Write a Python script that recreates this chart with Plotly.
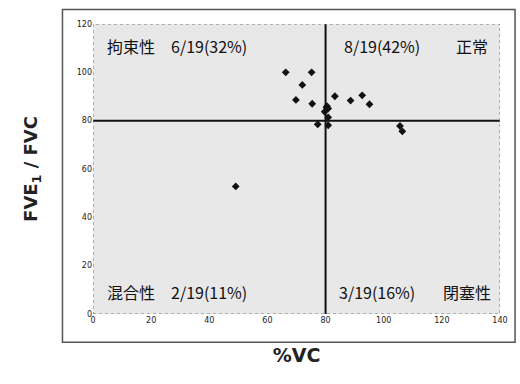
import plotly.graph_objects as go

vc = [66.3, 75.2, 72.0, 69.8, 75.4, 79.7, 80.3, 80.5, 80.9, 80.9, 83.2, 88.6, 92.6, 95.1,
      77.3, 49.1, 80.9, 105.6, 106.4]
fev1_fvc = [100.0, 100.0, 94.8, 88.6, 87.0, 83.7, 85.5, 86.0, 85.0, 81.4, 90.1, 88.3, 90.5, 86.8,
            78.5, 52.8, 78.1, 77.8, 75.6]

x_ticks = [0, 20, 40, 60, 80, 100, 120, 140]
y_ticks = [0, 20, 40, 60, 80, 100, 120]
threshold_x = 80
threshold_y = 80

labels = [
    ("拘束性　6/19(32%)", 4, 111, "left"),
    ("8/19(42%)", 85.5, 111, "left"),
    ("正常", 136.5, 111, "right"),
    ("混合性　2/19(11%)", 4, 9, "left"),
    ("3/19(16%)", 84, 9, "left"),
    ("閉塞性", 137.5, 9, "right"),
]

fig = go.Figure()
fig.add_trace(go.Scatter(
    x=vc, y=fev1_fvc, mode="markers",
    marker=dict(symbol="diamond", size=6, color="#111111"),
    showlegend=False,
))

fig.add_shape(type="line", x0=threshold_x, x1=threshold_x, y0=0, y1=120,
              line=dict(color="#111111", width=2))
fig.add_shape(type="line", x0=0, x1=140, y0=threshold_y, y1=threshold_y,
              line=dict(color="#111111", width=2))
fig.add_shape(type="rect", x0=0, x1=140, y0=0, y1=120,
              line=dict(color="#777777", width=1, dash="dot"))
# outer frame
fig.add_shape(type="rect", xref="paper", yref="paper",
              x0=-0.075, x1=1.037, y0=-0.097, y1=1.05,
              line=dict(color="#555555", width=1.5))

for txt, x, y, anchor in labels:
    fig.add_annotation(x=x, y=y, text=txt, showarrow=False, xanchor=anchor,
                       font=dict(family="Noto Sans CJK JP", size=16, color="#111111"))

fig.update_xaxes(range=[0, 140], tickvals=x_ticks, showgrid=False, zeroline=False,
                 showline=False, ticks="", ticklen=0,
                 tickfont=dict(size=8, color="#222", family="DejaVu Sans"),
                 title=dict(text="<b>%VC</b>", font=dict(size=19, color="#222", family="DejaVu Sans"),
                            standoff=24))
fig.update_yaxes(range=[0, 120], tickvals=y_ticks, showgrid=False, zeroline=False,
                 showline=False, ticks="", ticklen=0,
                 tickfont=dict(size=8, color="#222", family="DejaVu Sans"),
                 title=dict(text="<b>FVE<sub>1</sub> / FVC</b>",
                            font=dict(size=18, color="#222", family="DejaVu Sans"), standoff=34))

fig.update_layout(
    width=520, height=384,
    margin=dict(l=93, r=18, t=24, b=70),
    paper_bgcolor="white", plot_bgcolor="#e8e8e8",
)

fig.write_html("out.html")
